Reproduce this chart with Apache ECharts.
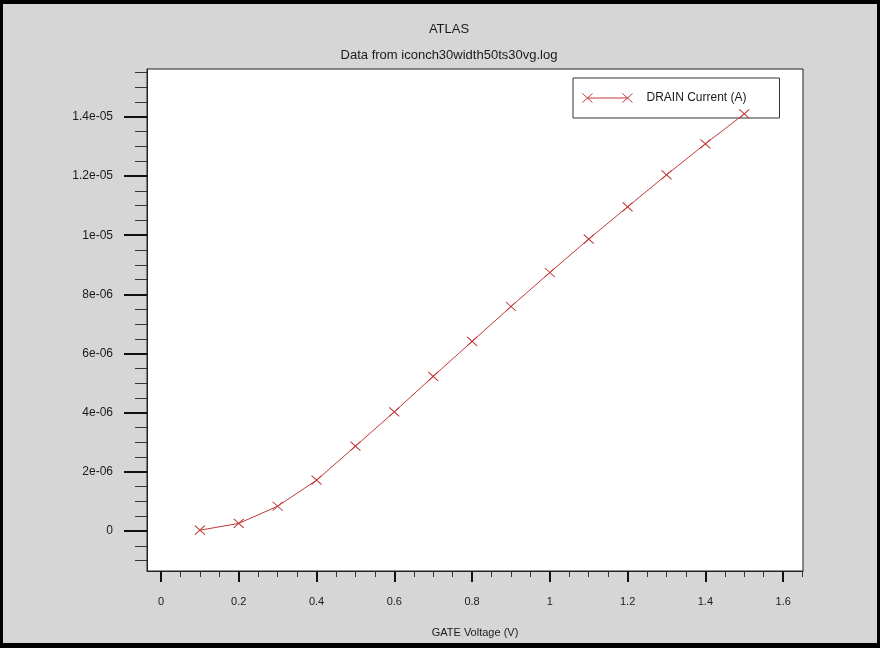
<!DOCTYPE html>
<html>
<head>
<meta charset="utf-8">
<script src="https://cdn.jsdelivr.net/npm/echarts@6/dist/echarts.min.js"></script>
<style>
	html, body { margin: 0; padding: 0; background: #000; }
	#chart { position: absolute; left: 3px; top: 4px; width: 874px; height: 639px; }
</style>
</head>
<body>
<div id="chart"></div>
<script>
"use strict";

const gateVoltage = [0.1, 0.2, 0.3, 0.4, 0.5, 0.6, 0.7, 0.8, 0.9, 1.0, 1.1, 1.2, 1.3, 1.4, 1.5];
const drainCurrent = [3e-8, 2.6e-7, 8.4e-7, 1.72e-6, 2.87e-6, 4.03e-6, 5.23e-6, 6.41e-6, 7.59e-6,
	8.74e-6, 9.87e-6, 1.096e-5, 1.204e-5, 1.309e-5, 1.41e-5];

const xTicks = [0, 0.2, 0.4, 0.6, 0.8, 1, 1.2, 1.4, 1.6];
const xTickLabels = ["0", "0.2", "0.4", "0.6", "0.8", "1", "1.2", "1.4", "1.6"];
const xMinorTicks = [0.05, 0.1, 0.15, 0.25, 0.3, 0.35, 0.45, 0.5, 0.55, 0.65, 0.7, 0.75, 0.85, 0.9, 0.95,
	1.05, 1.1, 1.15, 1.25, 1.3, 1.35, 1.45, 1.5, 1.55, 1.65];
const yTicks = [0, 2e-6, 4e-6, 6e-6, 8e-6, 1e-5, 1.2e-5, 1.4e-5];
const yTickLabels = ["0", "2e-06", "4e-06", "6e-06", "8e-06", "1e-05", "1.2e-05", "1.4e-05"];
const yMinorTicks = [-1e-6, -5e-7, 5e-7, 1e-6, 1.5e-6, 2.5e-6, 3e-6, 3.5e-6, 4.5e-6, 5e-6, 5.5e-6,
	6.5e-6, 7e-6, 7.5e-6, 8.5e-6, 9e-6, 9.5e-6, 1.05e-5, 1.1e-5, 1.15e-5, 1.25e-5, 1.3e-5, 1.35e-5,
	1.45e-5, 1.5e-5, 1.55e-5];

const lineColor = "#c03a3a";
const font = "Liberation Sans, Arial, sans-serif";
const xRange = [-0.036, 1.651];
const yRange = [-1.349e-6, 1.5618e-5];

function pickLabel(ticks, labels){
	return (v)=>{
		for(let i = 0; i < ticks.length; i++){
			if(Math.abs(ticks[i] - v) < 1e-12) return labels[i];
		}
		return "";
	};
}

const myChart = echarts.init(document.getElementById("chart"));
const grid = {left: 144, top: 65, width: 656, height: 506};

myChart.setOption({
	animation: false,
	backgroundColor: "#d6d6d6",
	graphic: [
		{type: "text", x: 446, y: 25, style: {text: "ATLAS", font: "13px " + font, fill: "#1a1a1a", align: "center", verticalAlign: "middle"}},
		{type: "text", x: 446, y: 51, style: {text: "Data from iconch30width50ts30vg.log", font: "13px " + font, fill: "#1a1a1a", align: "center", verticalAlign: "middle"}}
	],
	grid: Object.assign({show: true, backgroundColor: "#fff", borderColor: "#222", borderWidth: 1}, grid),
	legend: {
		left: 570, top: 74,
		backgroundColor: "#fff", borderColor: "#333", borderWidth: 1,
		padding: [13, 33, 13, 7],
		itemWidth: 50, itemHeight: 9,
		icon: "path://M0,0L10,9M0,9L10,0M5,4.5L45,4.5M40,0L50,9M40,9L50,0",
		itemStyle: {color: "none", borderColor: lineColor, borderWidth: 1},
		textStyle: {fontFamily: font, fontSize: 12, color: "#1a1a1a", padding: [0, 0, 0, 9]},
		data: ["DRAIN Current (A)"]
	},
	xAxis: [{
		type: "value", min: xRange[0], max: xRange[1],
		name: "GATE Voltage (V)", nameLocation: "middle", nameGap: 56,
		nameTextStyle: {fontFamily: font, fontSize: 11, color: "#1a1a1a"},
		splitLine: {show: false},
		axisLine: {show: true, onZero: false, lineStyle: {color: "#222", width: 1}},
		axisTick: {show: true, customValues: xTicks, length: 11, lineStyle: {color: "#111", width: 2}},
		axisLabel: {customValues: xTicks, formatter: pickLabel(xTicks, xTickLabels), margin: 25,
			fontFamily: font, fontSize: 11, color: "#1a1a1a"}
	}, {
		type: "value", min: xRange[0], max: xRange[1], position: "bottom",
		splitLine: {show: false},
		axisLine: {show: false, onZero: false},
		axisTick: {show: true, customValues: xMinorTicks, length: 6, lineStyle: {color: "#333", width: 1}},
		axisLabel: {show: false}
	}],
	yAxis: [{
		type: "value", min: yRange[0], max: yRange[1],
		splitLine: {show: false},
		axisLine: {show: true, onZero: false, lineStyle: {color: "#222", width: 1}},
		axisTick: {show: true, customValues: yTicks, length: 23, lineStyle: {color: "#111", width: 2}},
		axisLabel: {customValues: yTicks, formatter: pickLabel(yTicks, yTickLabels), margin: 34,
			fontFamily: font, fontSize: 12, color: "#1a1a1a"}
	}, {
		type: "value", min: yRange[0], max: yRange[1], position: "left",
		splitLine: {show: false},
		axisLine: {show: false, onZero: false},
		axisTick: {show: true, customValues: yMinorTicks, length: 12, lineStyle: {color: "#333", width: 1}},
		axisLabel: {show: false}
	}],
	series: [{
		name: "DRAIN Current (A)",
		type: "line",
		z: 5,
		data: gateVoltage.map((v, i)=>[v, drainCurrent[i]]),
		symbol: "path://M0,0L10,9M0,9L10,0",
		symbolSize: [10, 9],
		itemStyle: {color: "none", borderColor: lineColor, borderWidth: 1},
		lineStyle: {color: lineColor, width: 1}
	}]
});
</script>
</body>
</html>
